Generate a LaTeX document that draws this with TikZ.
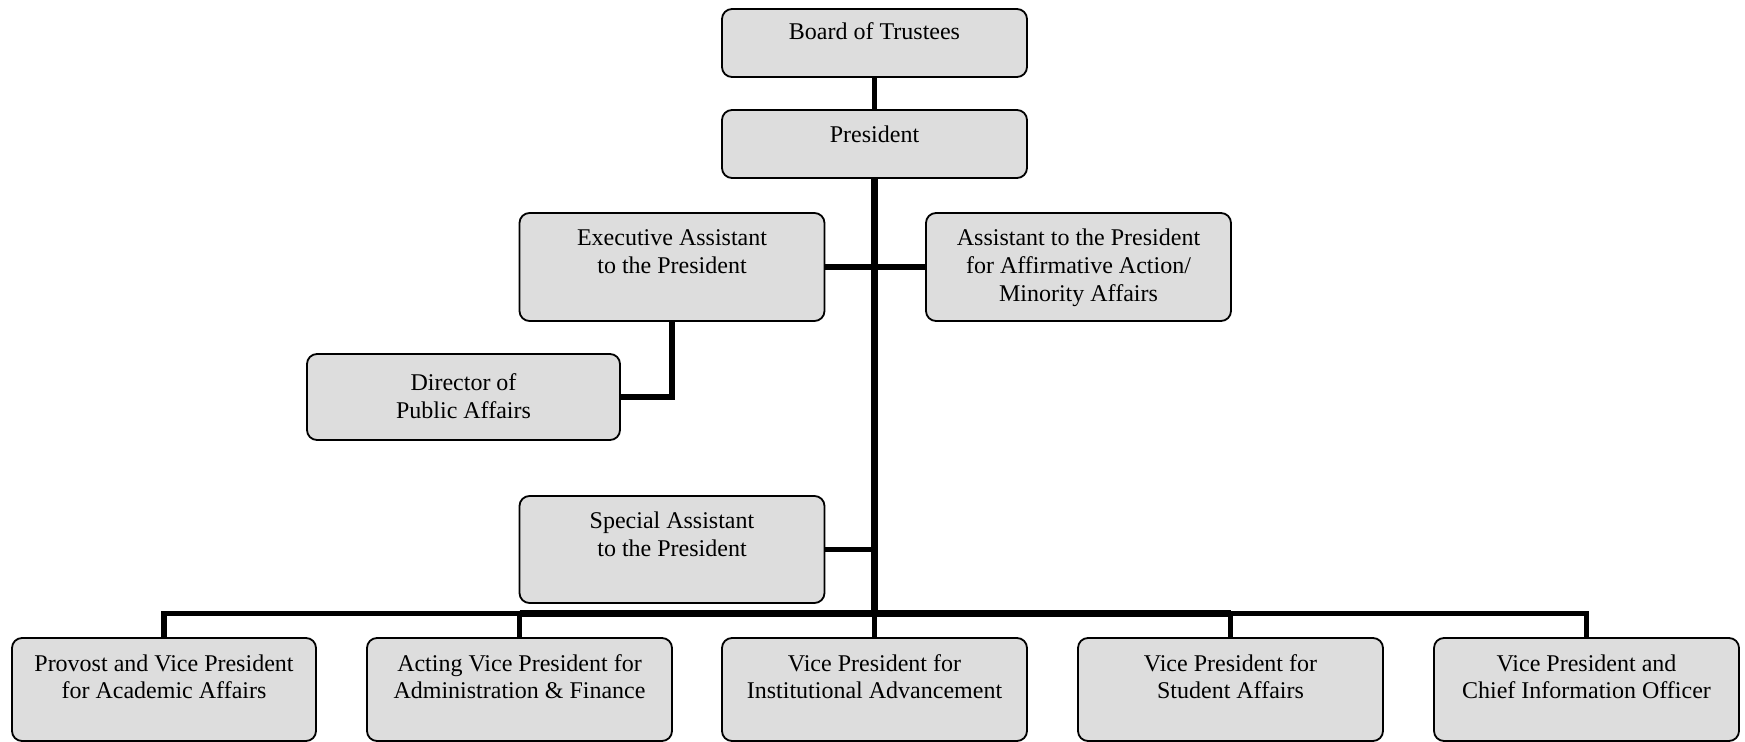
\documentclass[tikz,border=0pt]{standalone}
\usepackage{fontspec}
\setmainfont{Liberation Serif}
\definecolor{boxgray}{HTML}{DDDDDD}
% text of a box: [lead]{width}{height}{lines}
\newcommand{\boxtxt}[4][16.5pt]{\parbox[c][#3][t]{#2}{\centering\rule{0pt}{#1}#4}}
\begin{document}
\begin{tikzpicture}[x=0.5pt,y=-0.5pt,
        unit/.style={draw,line width=0.9pt,rounded corners=5pt,fill=boxgray,inner sep=0pt,
            font=\fontsize{12}{14}\selectfont},
        link/.style={line width=2.6pt},
        trunk/.style={line width=3.1pt}]
    \useasboundingbox (0,0) rectangle (1745,742);
    \node[unit] (board) at (874.5,43) {\boxtxt[15.5pt]{152.5pt}{34pt}{Board of Trustees}};
    \node[unit] (pres) at (874.5,144) {\boxtxt{152.5pt}{34pt}{President}};
    \node[unit] (exec) at (672,267) {\boxtxt{152.5pt}{54pt}{Executive Assistant\\to the President}};
    \node[unit] (affirm) at (1078.5,267) {\boxtxt{152.5pt}{54pt}{Assistant to the President\\for Affirmative Action/\\Minority Affairs}};
    \node[unit] (director) at (463.5,397) {\boxtxt[18.5pt]{156.5pt}{43pt}{Director of\\Public Affairs}};
    \node[unit] (special) at (672,549.5) {\boxtxt{152.5pt}{53.5pt}{Special Assistant\\to the President}};
    \node[unit] (provost) at (164,689.5) {\boxtxt{152pt}{51.5pt}{Provost and Vice President\\for Academic Affairs}};
    \node[unit] (acting) at (519.5,689.5) {\boxtxt{152.5pt}{51.5pt}{Acting Vice President for\\Administration \& Finance}};
    \node[unit] (vpia) at (874.5,689.5) {\boxtxt{152.5pt}{51.5pt}{Vice President for\\Institutional Advancement}};
    \node[unit] (student) at (1230.5,689.5) {\boxtxt{152.5pt}{51.5pt}{Vice President for\\Student Affairs}};
    \node[unit] (cio) at (1586.5,689.5) {\boxtxt{152.5pt}{51.5pt}{Vice President and\\Chief Information Officer}};
    \coordinate (bus) at (874.5,613.5);
    % connectors
    \draw[line width=2.4pt] (board) -- (pres);
    \draw[trunk] (pres.south) -- (bus);
    \draw[link] (bus) -- (vpia.north);
    \draw[link] (exec.east) -- (affirm.west);
    \draw[link] (exec.south) |- (director.east);
    \draw[link] (special.east) -- (special.east -| bus);
    \draw[trunk] (acting.north |- bus) -- (student.north |- bus);
    \draw[link] (acting.north |- bus) -| (provost.north);
    \draw[link] (acting.north |- bus) -- (acting.north);
    \draw[link] (student.north |- bus) -| (cio.north);
    \draw[link] (student.north |- bus) -- (student.north);
\end{tikzpicture}
\end{document}
